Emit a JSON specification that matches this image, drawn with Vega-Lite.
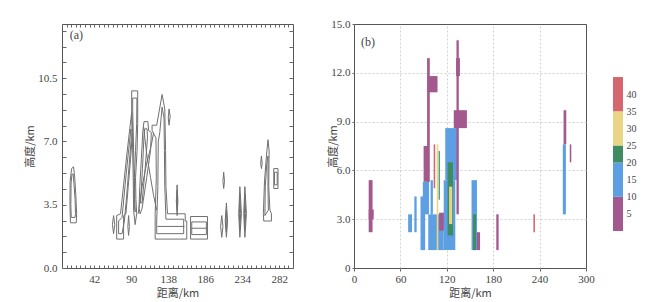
{
"$schema": "https://vega.github.io/schema/vega-lite/v6.json",
"background": "white",
"padding": {"left": 24, "top": 17, "right": 5, "bottom": 3},
"config": {
 "font": "Liberation Serif",
 "view": {"stroke": "#555", "strokeWidth": 1},
 "axis": {"labelFont": "Liberation Serif", "labelFontSize": 11, "labelColor": "#444", "titleFont": "Noto Sans CJK SC", "titleFontSize": 11, "titleFontWeight": "normal", "titleColor": "#444", "domain": false, "tickColor": "#666", "labelOverlap": false, "labelFlush": false}
},
"datasets": {
 "contours": [
  {"c":1,"o":0,"x":11,"y":2.5},{"c":1,"o":1,"x":10.3,"y":3.5},{"c":1,"o":2,"x":10.5,"y":4.8},{"c":1,"o":3,"x":12.5,"y":5.5},{"c":1,"o":4,"x":15,"y":5.6},{"c":1,"o":5,"x":16.5,"y":5},{"c":1,"o":6,"x":18,"y":4},{"c":1,"o":7,"x":19,"y":3},{"c":1,"o":8,"x":18.5,"y":2.5},{"c":1,"o":9,"x":11,"y":2.5},
  {"c":2,"o":0,"x":12,"y":2.8},{"c":2,"o":1,"x":11.5,"y":3.5},{"c":2,"o":2,"x":11.8,"y":4.7},{"c":2,"o":3,"x":13,"y":5.2},{"c":2,"o":4,"x":14.5,"y":5.2},{"c":2,"o":5,"x":15.5,"y":4.7},{"c":2,"o":6,"x":17,"y":3.8},{"c":2,"o":7,"x":17.5,"y":3},{"c":2,"o":8,"x":17,"y":2.8},{"c":2,"o":9,"x":12,"y":2.8},
  {"c":3,"o":0,"x":67,"y":1.9},{"c":3,"o":1,"x":65.5,"y":2.4},{"c":3,"o":2,"x":67,"y":2.9},{"c":3,"o":3,"x":68.5,"y":2.4},{"c":3,"o":4,"x":67,"y":1.9},
  {"c":4,"o":0,"x":71,"y":1.6},{"c":4,"o":1,"x":71,"y":2.9},{"c":4,"o":2,"x":76,"y":3.0},{"c":4,"o":3,"x":80,"y":4.6},{"c":4,"o":4,"x":84,"y":6.2},{"c":4,"o":5,"x":88,"y":7.7},{"c":4,"o":6,"x":90.5,"y":8.6},{"c":4,"o":7,"x":91.5,"y":7.5},{"c":4,"o":8,"x":89,"y":6},{"c":4,"o":9,"x":86,"y":4.5},{"c":4,"o":10,"x":83,"y":3.0},{"c":4,"o":11,"x":80,"y":2.9},{"c":4,"o":12,"x":80,"y":1.6},{"c":4,"o":13,"x":71,"y":1.6},
  {"c":5,"o":0,"x":73.5,"y":1.9},{"c":5,"o":1,"x":73.5,"y":2.6},{"c":5,"o":2,"x":78,"y":2.8},{"c":5,"o":3,"x":82,"y":4.6},{"c":5,"o":4,"x":86,"y":6.3},{"c":5,"o":5,"x":89.5,"y":7.7},{"c":5,"o":6,"x":90,"y":7.2},{"c":5,"o":7,"x":87,"y":5.6},{"c":5,"o":8,"x":84,"y":4},{"c":5,"o":9,"x":81,"y":2.6},{"c":5,"o":10,"x":78,"y":1.9},{"c":5,"o":11,"x":73.5,"y":1.9},
  {"c":6,"o":0,"x":90.5,"y":8.6},{"c":6,"o":1,"x":90.5,"y":9.8},{"c":6,"o":2,"x":98.3,"y":9.8},{"c":6,"o":3,"x":98.3,"y":8},{"c":6,"o":4,"x":97.5,"y":6.5},{"c":6,"o":5,"x":95.5,"y":5},{"c":6,"o":6,"x":96,"y":3.8},{"c":6,"o":7,"x":97,"y":3},{"c":6,"o":8,"x":95,"y":2.4},{"c":6,"o":9,"x":93,"y":3.2},{"c":6,"o":10,"x":92.5,"y":5},{"c":6,"o":11,"x":91.5,"y":7},{"c":6,"o":12,"x":90.5,"y":8.6},
  {"c":7,"o":0,"x":91.8,"y":8.8},{"c":7,"o":1,"x":91.8,"y":9.4},{"c":7,"o":2,"x":97.3,"y":9.4},{"c":7,"o":3,"x":97,"y":8},{"c":7,"o":4,"x":95.5,"y":6.5},{"c":7,"o":5,"x":94,"y":5},{"c":7,"o":6,"x":94.5,"y":3.8},{"c":7,"o":7,"x":95,"y":3.1},{"c":7,"o":8,"x":94,"y":3.5},{"c":7,"o":9,"x":93.5,"y":5.5},{"c":7,"o":10,"x":92.5,"y":7.5},{"c":7,"o":11,"x":91.8,"y":8.8},
  {"c":8,"o":0,"x":86.5,"y":1.8},{"c":8,"o":1,"x":85.5,"y":2.3},{"c":8,"o":2,"x":86.5,"y":2.9},{"c":8,"o":3,"x":87.5,"y":2.3},{"c":8,"o":4,"x":86.5,"y":1.8},
  {"c":9,"o":0,"x":100,"y":3.3},{"c":9,"o":1,"x":101,"y":4.5},{"c":9,"o":2,"x":103,"y":6},{"c":9,"o":3,"x":105,"y":7.6},{"c":9,"o":4,"x":106.5,"y":8.1},{"c":9,"o":5,"x":111.5,"y":8.1},{"c":9,"o":6,"x":112.5,"y":7.6},{"c":9,"o":7,"x":116,"y":7.5},{"c":9,"o":8,"x":115,"y":6.5},{"c":9,"o":9,"x":110,"y":5},{"c":9,"o":10,"x":104,"y":3.3},{"c":9,"o":11,"x":101.5,"y":3},{"c":9,"o":12,"x":100,"y":3.3},
  {"c":10,"o":0,"x":102,"y":3.6},{"c":10,"o":1,"x":104.5,"y":5.5},{"c":10,"o":2,"x":106.5,"y":7.3},{"c":10,"o":3,"x":107.5,"y":7.7},{"c":10,"o":4,"x":110.5,"y":7.7},{"c":10,"o":5,"x":111,"y":7.2},{"c":10,"o":6,"x":108,"y":5.5},{"c":10,"o":7,"x":104,"y":3.6},{"c":10,"o":8,"x":102,"y":3.6},
  {"c":11,"o":0,"x":106,"y":7.8},{"c":11,"o":1,"x":110,"y":6.3},{"c":11,"o":2,"x":115,"y":5},{"c":11,"o":3,"x":119,"y":4},{"c":11,"o":4,"x":123,"y":3.2},
  {"c":12,"o":0,"x":99,"y":3},{"c":12,"o":1,"x":104,"y":4.5},{"c":12,"o":2,"x":110,"y":5.8},{"c":12,"o":3,"x":116,"y":6.8},{"c":12,"o":4,"x":119,"y":7.5},
  {"c":13,"o":0,"x":121,"y":1.6},{"c":13,"o":1,"x":121,"y":3},{"c":13,"o":2,"x":122.5,"y":5},{"c":13,"o":3,"x":122,"y":7.2},{"c":13,"o":4,"x":117,"y":7.6},{"c":13,"o":5,"x":117,"y":7.9},{"c":13,"o":6,"x":123,"y":7.9},{"c":13,"o":7,"x":130,"y":9.6},{"c":13,"o":8,"x":133.5,"y":8.8},{"c":13,"o":9,"x":134.5,"y":6.5},{"c":13,"o":10,"x":135,"y":4.5},{"c":13,"o":11,"x":137,"y":3},{"c":13,"o":12,"x":160,"y":3},{"c":13,"o":13,"x":160,"y":2.6},{"c":13,"o":14,"x":162,"y":2.6},{"c":13,"o":15,"x":162,"y":1.6},{"c":13,"o":16,"x":121,"y":1.6},
  {"c":14,"o":0,"x":123,"y":1.9},{"c":14,"o":1,"x":123,"y":2.6},{"c":14,"o":2,"x":124.5,"y":4.5},{"c":14,"o":3,"x":125,"y":7},{"c":14,"o":4,"x":127,"y":7.5},{"c":14,"o":5,"x":130,"y":8.9},{"c":14,"o":6,"x":132.5,"y":8.3},{"c":14,"o":7,"x":133,"y":6.5},{"c":14,"o":8,"x":133.5,"y":4.5},{"c":14,"o":9,"x":135,"y":2.7},{"c":14,"o":10,"x":158,"y":2.7},{"c":14,"o":11,"x":158,"y":1.9},{"c":14,"o":12,"x":123,"y":1.9},
  {"c":15,"o":0,"x":124,"y":2.3},{"c":15,"o":1,"x":159,"y":2.3},
  {"c":16,"o":0,"x":139,"y":7.9},{"c":16,"o":1,"x":138,"y":8.3},{"c":16,"o":2,"x":139,"y":8.8},{"c":16,"o":3,"x":140.5,"y":8.4},{"c":16,"o":4,"x":139,"y":7.9},
  {"c":17,"o":0,"x":149.5,"y":2.9},{"c":17,"o":1,"x":148.5,"y":3.7},{"c":17,"o":2,"x":149.5,"y":4.6},{"c":17,"o":3,"x":150.5,"y":3.7},{"c":17,"o":4,"x":149.5,"y":2.9},
  {"c":18,"o":0,"x":149.6,"y":3.2},{"c":18,"o":1,"x":149.2,"y":3.7},{"c":18,"o":2,"x":149.6,"y":4.3},{"c":18,"o":3,"x":150,"y":3.7},{"c":18,"o":4,"x":149.6,"y":3.2},
  {"c":19,"o":0,"x":167,"y":1.6},{"c":19,"o":1,"x":167,"y":2.85},{"c":19,"o":2,"x":189,"y":2.85},{"c":19,"o":3,"x":189,"y":1.6},{"c":19,"o":4,"x":167,"y":1.6},
  {"c":20,"o":0,"x":168.5,"y":1.85},{"c":20,"o":1,"x":168.5,"y":2.55},{"c":20,"o":2,"x":187.5,"y":2.55},{"c":20,"o":3,"x":187.5,"y":1.85},{"c":20,"o":4,"x":168.5,"y":1.85},
  {"c":21,"o":0,"x":168,"y":2.2},{"c":21,"o":1,"x":188,"y":2.2},
  {"c":22,"o":0,"x":207.5,"y":1.7},{"c":22,"o":1,"x":206,"y":2.3},{"c":22,"o":2,"x":207.5,"y":2.9},{"c":22,"o":3,"x":209,"y":2.3},{"c":22,"o":4,"x":207.5,"y":1.7},
  {"c":23,"o":0,"x":210,"y":4.4},{"c":23,"o":1,"x":209,"y":4.8},{"c":23,"o":2,"x":210,"y":5.3},{"c":23,"o":3,"x":211,"y":4.8},{"c":23,"o":4,"x":210,"y":4.4},
  {"c":24,"o":0,"x":213.5,"y":1.7},{"c":24,"o":1,"x":212,"y":2.6},{"c":24,"o":2,"x":213.5,"y":3.6},{"c":24,"o":3,"x":215,"y":2.6},{"c":24,"o":4,"x":213.5,"y":1.7},
  {"c":25,"o":0,"x":213.5,"y":2},{"c":25,"o":1,"x":212.8,"y":2.6},{"c":25,"o":2,"x":213.5,"y":3.2},{"c":25,"o":3,"x":214.2,"y":2.6},{"c":25,"o":4,"x":213.5,"y":2},
  {"c":26,"o":0,"x":231,"y":1.7},{"c":26,"o":1,"x":229.5,"y":3},{"c":26,"o":2,"x":231,"y":4.5},{"c":26,"o":3,"x":233,"y":3},{"c":26,"o":4,"x":231,"y":1.7},
  {"c":27,"o":0,"x":231,"y":2.1},{"c":27,"o":1,"x":230.4,"y":3},{"c":27,"o":2,"x":231,"y":4.1},{"c":27,"o":3,"x":232,"y":3},{"c":27,"o":4,"x":231,"y":2.1},
  {"c":28,"o":0,"x":237.5,"y":1.7},{"c":28,"o":1,"x":236,"y":3},{"c":28,"o":2,"x":237.5,"y":4.5},{"c":28,"o":3,"x":239.5,"y":3},{"c":28,"o":4,"x":237.5,"y":1.7},
  {"c":29,"o":0,"x":237.5,"y":2.1},{"c":29,"o":1,"x":236.9,"y":3},{"c":29,"o":2,"x":237.5,"y":4.1},{"c":29,"o":3,"x":238.5,"y":3},{"c":29,"o":4,"x":237.5,"y":2.1},
  {"c":30,"o":0,"x":259,"y":5.5},{"c":30,"o":1,"x":258,"y":5.8},{"c":30,"o":2,"x":259,"y":6.2},{"c":30,"o":3,"x":260,"y":5.8},{"c":30,"o":4,"x":259,"y":5.5},
  {"c":31,"o":0,"x":262,"y":2.6},{"c":31,"o":1,"x":261.5,"y":3},{"c":31,"o":2,"x":263,"y":4.8},{"c":31,"o":3,"x":265.5,"y":6.2},{"c":31,"o":4,"x":267.5,"y":7.1},{"c":31,"o":5,"x":269,"y":6.5},{"c":31,"o":6,"x":268.5,"y":4.5},{"c":31,"o":7,"x":270,"y":3.2},{"c":31,"o":8,"x":272,"y":3},{"c":31,"o":9,"x":272,"y":2.6},{"c":31,"o":10,"x":262,"y":2.6},
  {"c":32,"o":0,"x":263.5,"y":2.9},{"c":32,"o":1,"x":264,"y":4.5},{"c":32,"o":2,"x":266,"y":5.8},{"c":32,"o":3,"x":267.5,"y":6.2},{"c":32,"o":4,"x":267.5,"y":4.5},{"c":32,"o":5,"x":268,"y":3.2},{"c":32,"o":6,"x":263.5,"y":2.9},
  {"c":33,"o":0,"x":275,"y":4.4},{"c":33,"o":1,"x":275,"y":5.5},{"c":33,"o":2,"x":280.5,"y":5.5},{"c":33,"o":3,"x":280.5,"y":4.4},{"c":33,"o":4,"x":275,"y":4.4},
  {"c":34,"o":0,"x":276,"y":4.6},{"c":34,"o":1,"x":276,"y":5.3},{"c":34,"o":2,"x":279.5,"y":5.3},{"c":34,"o":3,"x":279.5,"y":4.6},{"c":34,"o":4,"x":276,"y":4.6}
 ],
 "cells": [
  {"x":19,"x2":24,"y":2.2,"y2":5.4,"cat":"p"},
  {"x":19,"x2":25.5,"y":3.0,"y2":3.6,"cat":"p"},
  {"x":70,"x2":75,"y":2.2,"y2":3.3,"cat":"b"},
  {"x":78,"x2":81,"y":2.2,"y2":4.4,"cat":"b"},
  {"x":86,"x2":92,"y":1.1,"y2":4.4,"cat":"b"},
  {"x":90,"x2":97,"y":5.3,"y2":7.5,"cat":"p"},
  {"x":89,"x2":97,"y":3.3,"y2":5.3,"cat":"b"},
  {"x":94.5,"x2":98,"y":5.3,"y2":12.9,"cat":"p"},
  {"x":95,"x2":108,"y":10.8,"y2":11.8,"cat":"p"},
  {"x":96,"x2":116,"y":1.1,"y2":3.3,"cat":"b"},
  {"x":99,"x2":102,"y":3.3,"y2":5.4,"cat":"b"},
  {"x":103,"x2":105,"y":4.9,"y2":7.6,"cat":"r"},
  {"x":107,"x2":109,"y":1.1,"y2":7.6,"cat":"y"},
  {"x":109.5,"x2":111,"y":4.2,"y2":7.2,"cat":"g"},
  {"x":110,"x2":121,"y":2.3,"y2":3.4,"cat":"p"},
  {"x":116,"x2":131,"y":1.1,"y2":5.4,"cat":"b"},
  {"x":118,"x2":134,"y":5.4,"y2":8.6,"cat":"b"},
  {"x":121,"x2":128,"y":2.0,"y2":6.5,"cat":"g"},
  {"x":123,"x2":127,"y":2.7,"y2":5.0,"cat":"y"},
  {"x":132.5,"x2":135.5,"y":3.3,"y2":14.0,"cat":"p"},
  {"x":132,"x2":137,"y":11.8,"y2":12.9,"cat":"p"},
  {"x":129,"x2":146,"y":8.6,"y2":9.7,"cat":"p"},
  {"x":152,"x2":159,"y":1.1,"y2":5.4,"cat":"b"},
  {"x":154,"x2":158,"y":1.1,"y2":3.3,"cat":"g"},
  {"x":159,"x2":163,"y":1.1,"y2":2.2,"cat":"p"},
  {"x":184,"x2":187,"y":1.1,"y2":3.3,"cat":"p"},
  {"x":232,"x2":234,"y":2.2,"y2":3.3,"cat":"r"},
  {"x":270,"x2":274,"y":3.3,"y2":7.6,"cat":"b"},
  {"x":271,"x2":274.5,"y":7.6,"y2":9.7,"cat":"p"},
  {"x":279,"x2":281,"y":6.5,"y2":7.6,"cat":"p"}
 ],
 "bands": [
  {"lo":0,"hi":10,"cat":"p"},
  {"lo":10,"hi":20,"cat":"b"},
  {"lo":20,"hi":25,"cat":"g"},
  {"lo":25,"hi":35,"cat":"y"},
  {"lo":35,"hi":45,"cat":"r"}
 ]
},
"hconcat": [
 {
  "width": 231, "height": 244,
  "resolve": {"axis": {"x": "independent", "y": "independent"}},
  "layer": [
   {
    "data": {"name": "contours"},
    "mark": {"type": "line", "stroke": "#707070", "strokeWidth": 1},
    "encoding": {
     "x": {"field": "x", "type": "quantitative", "scale": {"domain": [0, 300], "nice": false},
      "axis": {"orient": "bottom", "title": "距离/km", "values": [0,6,12,18,24,30,36,42,48,54,60,66,72,78,84,90,96,102,108,114,120,126,132,138,144,150,156,162,168,174,180,186,192,198,204,210,216,222,228,234,240,246,252,258,264,270,276,282,288,294,300], "labelExpr": "(datum.value - 42) % 48 == 0 ? '' + datum.value : ''", "offset": -3, "tickSize": 3, "labelPadding": 5, "titlePadding": 3, "grid": false}},
     "y": {"field": "y", "type": "quantitative", "scale": {"domain": [0, 13.5], "nice": false},
      "axis": {"orient": "left", "title": "高度/km", "values": [0,0.875,1.75,2.625,3.5,4.375,5.25,6.125,7,7.875,8.75,9.625,10.5,11.375,12.25,13.125], "labelExpr": "datum.value % 3.5 == 0 ? format(datum.value, '.1f') : ''", "offset": -4, "tickSize": 4, "labelPadding": 5, "titlePadding": 2, "grid": false}},
     "detail": {"field": "c", "type": "nominal"},
     "order": {"field": "o", "type": "quantitative"}
    }
   },
   {
    "data": {"values": [{"x": 10, "y": 12.9, "t": "(a)"}]},
    "mark": {"type": "text", "align": "left", "baseline": "middle", "fontSize": 12, "color": "#444", "font": "Liberation Serif"},
    "encoding": {
     "x": {"field": "x", "type": "quantitative", "axis": {"orient": "top", "title": null, "labels": false, "values": [0,6,12,18,24,30,36,42,48,54,60,66,72,78,84,90,96,102,108,114,120,126,132,138,144,150,156,162,168,174,180,186,192,198,204,210,216,222,228,234,240,246,252,258,264,270,276,282,288,294,300], "offset": -3, "tickSize": 3, "grid": false}},
     "y": {"field": "y", "type": "quantitative", "axis": {"orient": "right", "title": null, "labels": false, "values": [0,0.875,1.75,2.625,3.5,4.375,5.25,6.125,7,7.875,8.75,9.625,10.5,11.375,12.25,13.125], "offset": -4, "tickSize": 4, "grid": false}},
     "text": {"field": "t"}
    }
   }
  ]
 },
 {
  "hconcat": [
   {
    "width": 232, "height": 244,
    "resolve": {"axis": {"x": "independent", "y": "independent"}},
    "layer": [
     {
      "data": {"name": "cells"},
      "mark": {"type": "rect"},
      "encoding": {
       "x": {"field": "x", "type": "quantitative", "scale": {"domain": [0, 300], "nice": false},
        "axis": {"orient": "bottom", "title": "距离/km", "values": [0,60,120,180,240,300], "tickSize": 3, "labelPadding": 2, "titlePadding": 3, "grid": false}},
       "x2": {"field": "x2"},
       "y": {"field": "y", "type": "quantitative", "scale": {"domain": [0, 15], "nice": false},
        "axis": {"orient": "left", "title": "高度/km", "values": [0,3,6,9,12,15], "labelExpr": "datum.value == 0 ? '0' : format(datum.value, '.1f')", "tickSize": 2, "labelPadding": 2, "titleX": -16, "grid": false}},
       "y2": {"field": "y2"},
       "color": {"field": "cat", "type": "nominal", "scale": {"domain": ["p","b","g","y","r"], "range": ["#a3598d","#5d9fe3","#3f8c63","#e9d684","#d5656f"]}, "legend": null}
      }
     },
     {
      "data": {"values": [{"x": 9, "y": 13.9, "t": "(b)"}]},
      "mark": {"type": "text", "align": "left", "baseline": "middle", "fontSize": 12, "color": "#444", "font": "Liberation Serif"},
      "encoding": {
       "x": {"field": "x", "type": "quantitative", "axis": {"orient": "top", "title": null, "labels": false, "ticks": false, "values": [60,120,180,240], "grid": true, "gridColor": "#d0d0d0", "gridDash": [2,2]}},
       "y": {"field": "y", "type": "quantitative", "axis": {"orient": "right", "title": null, "labels": false, "ticks": false, "values": [3,6,9,12], "grid": true, "gridColor": "#d0d0d0", "gridDash": [2,2]}},
       "text": {"field": "t"}
      }
     }
    ]
   },
   {
    "width": 10, "height": 244,
    "view": {"stroke": null},
    "data": {"name": "bands"},
    "mark": {"type": "rect"},
    "encoding": {
     "y": {"field": "lo", "type": "quantitative", "scale": {"domain": [-10.8, 60.5], "nice": false},
      "axis": {"orient": "right", "title": null, "values": [5,10,15,20,25,30,35,40], "ticks": false, "grid": false, "labelPadding": 3, "labelFontSize": 10}},
     "y2": {"field": "hi"},
     "color": {"field": "cat", "type": "nominal", "scale": {"domain": ["p","b","g","y","r"], "range": ["#a3598d","#5d9fe3","#3f8c63","#e9d684","#d5656f"]}, "legend": null}
    }
   }
  ],
  "spacing": 27,
  "bounds": "flush",
  "resolve": {"scale": {"color": "shared"}}
 }
],
"spacing": 61,
"bounds": "flush",
"resolve": {"scale": {"color": "shared"}}
}
